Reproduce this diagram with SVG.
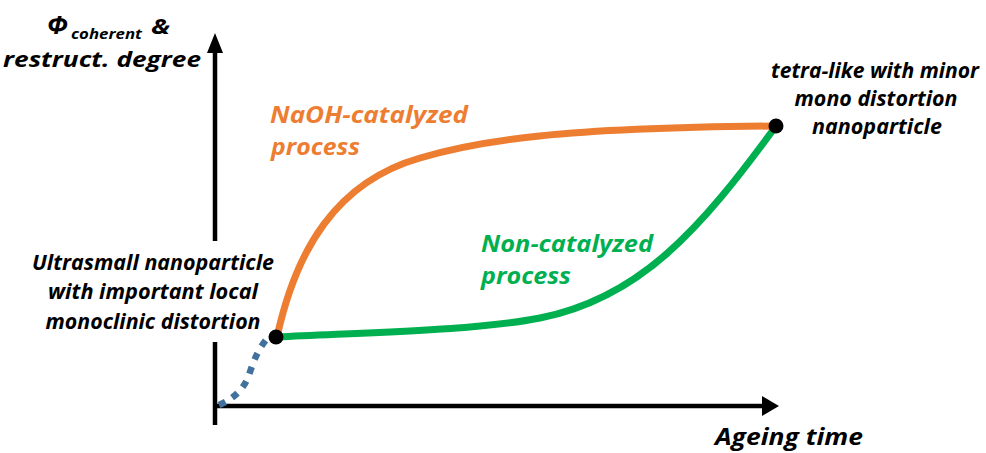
<svg xmlns="http://www.w3.org/2000/svg" width="986" height="453" viewBox="0 0 986 453">
<style>
  text { font-family: "Open Sans", "Noto Sans", "Liberation Sans", sans-serif; font-weight: bold; font-style: italic; }
  .lbl { font-size: 22px; fill: #000; }
  .orange { font-size: 24px; fill: #ED7D31; }
  .green { font-size: 24px; fill: #00B050; }
  .axis { stroke: #000; stroke-width: 4.5; fill: none; }
  .curve { fill: none; stroke-width: 7; stroke-linecap: round; }
</style>
<rect width="986" height="453" fill="#fff"/>
<g id="axes">
  <line class="axis" x1="215" y1="50" x2="215" y2="241"/>
  <line class="axis" x1="215" y1="342" x2="215" y2="425"/>
  <polygon points="215,33 207,53 223,53" fill="#000"/>
  <line class="axis" x1="215" y1="406" x2="764" y2="406"/>
  <polygon points="779,406 762,396 762,416" fill="#000"/>
</g>
<g id="connectors">
  <path d="M219,405 C235,398 245,388 250,372 C254,360 258,350 266,340" fill="none" stroke="#41719C" stroke-width="6.5" stroke-dasharray="7 8"/>
  <path class="curve" stroke="#ED7D31" d="M277,337 C296,250 336,182 420,158 C480,140 560,128 776,126"/>
  <path class="curve" stroke="#00B050" d="M277,337 C380,332 480,330 540,318 C640,298 700,230 776,126"/>
</g>
<g id="node-start">
  <circle cx="276" cy="337" r="7.5" fill="#000"/>
  <text class="lbl" text-anchor="middle" x="153" y="270" textLength="242" lengthAdjust="spacingAndGlyphs">Ultrasmall nanoparticle</text>
  <text class="lbl" text-anchor="middle" x="153" y="299" textLength="210" lengthAdjust="spacingAndGlyphs">with important local</text>
  <text class="lbl" text-anchor="middle" x="153" y="329" textLength="215" lengthAdjust="spacingAndGlyphs">monoclinic distortion</text>
</g>
<g id="node-end">
  <circle cx="776" cy="126" r="7.5" fill="#000"/>
  <text class="lbl" text-anchor="middle" x="875" y="78" textLength="208" lengthAdjust="spacingAndGlyphs">tetra-like with minor</text>
  <text class="lbl" text-anchor="middle" x="876" y="106" textLength="163" lengthAdjust="spacingAndGlyphs">mono distortion</text>
  <text class="lbl" text-anchor="middle" x="877" y="134" textLength="130" lengthAdjust="spacingAndGlyphs">nanoparticle</text>
</g>
<g id="label-naoh">
  <text class="orange" x="270" y="123" textLength="198" lengthAdjust="spacingAndGlyphs">NaOH-catalyzed</text>
  <text class="orange" x="271" y="155" textLength="89" lengthAdjust="spacingAndGlyphs">process</text>
</g>
<g id="label-non">
  <text class="green" x="481" y="252" textLength="172" lengthAdjust="spacingAndGlyphs">Non-catalyzed</text>
  <text class="green" x="481" y="284" textLength="90" lengthAdjust="spacingAndGlyphs">process</text>
</g>
<g id="axis-labels">
  <text class="lbl" x="47" y="34" style="font-size:25px" textLength="21" lengthAdjust="spacingAndGlyphs">Φ</text>
  <text class="lbl" x="71" y="39" style="font-size:15px" textLength="71" lengthAdjust="spacingAndGlyphs">coherent</text>
  <text class="lbl" x="151" y="34" textLength="19" lengthAdjust="spacingAndGlyphs">&amp;</text>
  <text class="lbl" x="3" y="67" textLength="198" lengthAdjust="spacingAndGlyphs">restruct. degree</text>
  <text class="lbl" x="715" y="445" style="font-size:24px" textLength="148" lengthAdjust="spacingAndGlyphs">Ageing time</text>
</g>
</svg>
